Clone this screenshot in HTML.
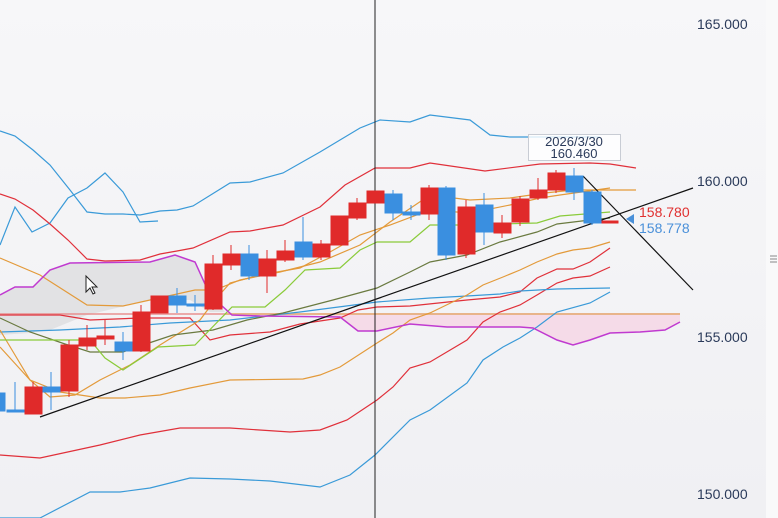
<!DOCTYPE html>
<html><head><meta charset="utf-8"><style>
html,body{margin:0;padding:0;background:#f4f4f6;}
svg{display:block;font-family:"Liberation Sans",sans-serif;}
</style></head><body>
<svg width="778" height="518" viewBox="0 0 778 518" xmlns="http://www.w3.org/2000/svg">
<defs><linearGradient id="bg" x1="0" y1="0" x2="0" y2="1"><stop offset="0" stop-color="#f7f7f9"/><stop offset="1" stop-color="#f0f0f3"/></linearGradient></defs>
<rect width="778" height="518" fill="url(#bg)"/>
<rect x="766" width="12" height="518" fill="#f9f9fa"/>
<polygon points="0,295 15,287 33,287 50,270 70,263 150,262 175,255 195,262 210,295 225,312 210,312 190,300 150,300 125,306 87,315 50,330 30,333 0,335" fill="#e2e2e4"/>
<polygon points="310,314 680,314 680,322 665,330 640,332 610,333 590,340 573,345 557,340 533,328 520,327 447,327 410,324 377,331 358,331 340,317" fill="#f5dbe8"/>
<line x1="0" y1="314" x2="225" y2="314" stroke="#e88a8a" stroke-width="2" opacity="0.7"/>
<line x1="225" y1="314" x2="680" y2="314" stroke="#e8b48a" stroke-width="2"/>
<g fill="none" stroke-width="1.2">
<polyline stroke="#3a9ad8" points="0,131 15,136 33,150 50,165 70,190 87,212 105,214 123,214 140,215 160,211 177,210 193,206 230,183 250,182 283,173 320,152 340,140 360,128 380,120 410,122 430,115 470,120 490,135 510,137 560,137 600,137"/>
<polyline stroke="#3a9ad8" points="0,245 15,207 32,232 50,223 68,198 87,188 105,173 123,192 140,222 158,221"/>
<polyline stroke="#e0303a" points="0,194 15,199 33,210 50,224 68,240 87,259 105,261 140,260 160,254 177,251 193,248 230,232 250,231 283,225 320,207 345,185 375,168 410,168 430,163 485,171 540,164 590,163 610,164 636,168"/>
<polyline stroke="#3a9ad8" points="0,518 40,518 90,492 120,492 150,488 190,478 230,479 270,481 320,487 350,475 375,455 410,420 430,410 467,383 483,360 503,347 520,338 537,327 557,312 590,303 610,292"/>
<polyline stroke="#e0303a" points="0,455 40,458 100,445 140,435 180,428 230,428 290,432 320,430 347,420 377,400 393,387 410,368 430,362 467,340 483,322 500,312 520,305 537,295 557,283 573,278 590,276 610,267"/>
<polyline stroke="#e0303a" points="0,315 60,315 90,320 140,318 190,318 210,340 230,335 270,332 300,324 340,318 358,310 377,307 410,306 467,300 500,297 520,292 537,278 557,269 573,269 590,262 610,248"/>
<polyline stroke="#3a9ad8" points="0,332 60,330 120,327 170,323 230,320 300,312 377,302 430,298 467,296 500,294 520,291 557,289 610,288"/>
<polyline stroke="#e39a3a" points="0,330 15,355 30,380 60,392 100,398 125,398 160,395 190,388 230,380 303,379 320,375 340,367 377,343 393,333 410,320 430,313 467,295 483,285 503,277 520,270 537,262 557,254 573,250 590,248 610,242"/>
<polyline stroke="#e39a3a" points="0,347 30,380 50,397 75,395 100,380 130,365 160,345 200,320 215,300 230,283 260,275 300,268 330,252 360,235 390,225 430,210 470,213 510,205 540,198 560,195 610,188"/>
<polyline stroke="#e39a3a" points="0,258 40,275 87,305 123,306 150,300 195,290 215,290 240,280 280,272 320,262 360,245 390,222 430,195 470,200 510,198 545,193 573,190 610,190 636,190"/>
<polyline stroke="#6a7a40" points="0,318 30,332 65,344 90,352 123,352 143,345 173,335 213,330 247,320 283,313 333,300 377,288 410,272 430,262 467,255 500,242 537,232 557,224 590,220 610,218"/>
<polyline stroke="#8acb3a" points="0,340 90,340 105,358 123,370 158,347 195,345 232,307 265,307 285,290 305,270 340,268 360,250 377,242 410,242 430,225 467,225 537,223 560,216 610,212"/>
<polyline stroke="#c03ad0" stroke-width="1.5" points="0,295 15,287 33,287 50,270 70,263 150,262 175,255 195,262 210,295 232,315 260,316 340,317 358,331 377,331 410,324 447,327 520,327 533,328 557,340 573,345 590,340 610,333 640,332 665,330 680,322"/>
</g>
<line x1="40" y1="417" x2="693" y2="188" stroke="#111" stroke-width="1.2"/>
<line x1="583" y1="176" x2="693" y2="290" stroke="#111" stroke-width="1.2"/>
<line x1="375" y1="0" x2="375" y2="518" stroke="#222" stroke-width="1"/>
<g stroke-width="1">
<g fill="#3a8fe0" stroke="#3a8fe0"><rect x="0" y="393" width="5" height="18"/><rect x="7" y="410" width="17" height="2"/><rect x="43" y="387" width="17" height="5"/><rect x="115" y="342" width="17" height="9"/><rect x="169" y="296" width="17" height="9"/><rect x="187" y="304" width="17" height="2"/><rect x="241" y="254" width="17" height="22"/><rect x="295" y="242" width="17" height="15"/><rect x="385" y="194" width="17" height="19"/><rect x="403" y="212" width="17" height="3"/><rect x="438" y="188" width="17" height="67"/><rect x="476" y="205" width="17" height="27"/><rect x="566" y="176" width="17" height="16"/><rect x="584" y="192" width="17" height="31"/>
<line x1="15" y1="382" x2="15" y2="412"/><line x1="51" y1="372" x2="51" y2="410"/><line x1="123" y1="332" x2="123" y2="360"/><line x1="177" y1="288" x2="177" y2="313"/><line x1="195" y1="295" x2="195" y2="311"/><line x1="249" y1="245" x2="249" y2="280"/><line x1="303" y1="217" x2="303" y2="260"/><line x1="393" y1="190" x2="393" y2="220"/><line x1="411" y1="205" x2="411" y2="220"/><line x1="446" y1="186" x2="446" y2="260"/><line x1="484" y1="193" x2="484" y2="245"/><line x1="574" y1="168" x2="574" y2="200"/><line x1="592" y1="190" x2="592" y2="225"/></g>
<g fill="#e02a2a" stroke="#e02a2a"><rect x="25" y="387" width="17" height="27"/><rect x="61" y="345" width="17" height="46"/><rect x="79" y="338" width="17" height="8"/><rect x="97" y="336" width="17" height="3"/><rect x="133" y="312" width="17" height="39"/><rect x="151" y="296" width="17" height="17"/><rect x="205" y="264" width="17" height="45"/><rect x="223" y="254" width="17" height="11"/><rect x="259" y="259" width="17" height="17"/><rect x="277" y="251" width="17" height="9"/><rect x="313" y="244" width="17" height="13"/><rect x="331" y="216" width="17" height="29"/><rect x="349" y="203" width="17" height="15"/><rect x="367" y="191" width="17" height="12"/><rect x="421" y="188" width="17" height="26"/><rect x="458" y="207" width="17" height="47"/><rect x="494" y="223" width="17" height="10"/><rect x="512" y="199" width="17" height="23"/><rect x="530" y="190" width="17" height="8"/><rect x="548" y="173" width="17" height="17"/><rect x="602" y="221" width="16" height="2"/>
<line x1="33" y1="382" x2="33" y2="414"/><line x1="69" y1="340" x2="69" y2="397"/><line x1="87" y1="325" x2="87" y2="350"/><line x1="105" y1="320" x2="105" y2="345"/><line x1="141" y1="305" x2="141" y2="352"/><line x1="213" y1="255" x2="213" y2="310"/><line x1="231" y1="245" x2="231" y2="270"/><line x1="267" y1="250" x2="267" y2="293"/><line x1="285" y1="240" x2="285" y2="262"/><line x1="321" y1="240" x2="321" y2="260"/><line x1="357" y1="198" x2="357" y2="220"/><line x1="429" y1="185" x2="429" y2="220"/><line x1="466" y1="200" x2="466" y2="258"/><line x1="502" y1="215" x2="502" y2="238"/><line x1="520" y1="196" x2="520" y2="226"/><line x1="538" y1="178" x2="538" y2="200"/><line x1="556" y1="170" x2="556" y2="193"/></g>
</g>
<path d="M86,276 L86,292 L90,288 L93,294 L95,293 L92,287 L97,287 Z" fill="#fff" stroke="#222" stroke-width="1"/>
<rect x="528.5" y="134.5" width="92" height="26" fill="#fff" fill-opacity="0.8" stroke="#c8ccd4"/>
<text x="574" y="146" font-size="13" fill="#2a3a5a" text-anchor="middle">2026/3/30</text>
<text x="574" y="158" font-size="13" fill="#2a3a5a" text-anchor="middle">160.460</text>
<polygon points="626,219 634,214 634,224" fill="#4a90d9"/>
<text x="639" y="217" font-size="14" fill="#e03030">158.780</text>
<text x="639" y="233" font-size="14" fill="#4a90d9">158.778</text>
<g font-size="14" fill="#2a3a5a">
<text x="697" y="29">165.000</text>
<text x="697" y="186">160.000</text>
<text x="697" y="342">155.000</text>
<text x="697" y="499">150.000</text>
</g>
<g stroke="#888" stroke-width="1"><line x1="770" y1="256" x2="777" y2="256"/><line x1="770" y1="259" x2="777" y2="259"/><line x1="770" y1="262" x2="777" y2="262"/></g>
</svg>
</body></html>
